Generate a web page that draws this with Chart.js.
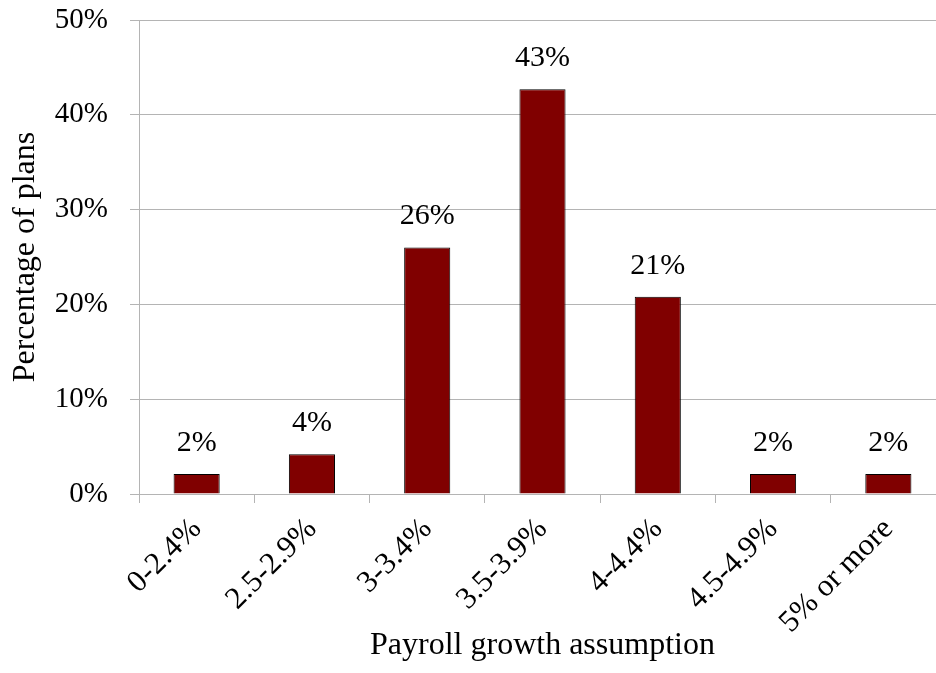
<!DOCTYPE html>
<html>
<head>
<meta charset="utf-8">
<script src="https://cdn.jsdelivr.net/npm/chart.js@4/dist/chart.umd.min.js"></script>
<style>
  html, body { margin: 0; padding: 0; background: #fff; overflow: hidden; }
  #wrap { width: 946px; height: 673px; }
</style>
</head>
<body>
<div id="wrap"><canvas id="payrollChart"></canvas></div>
<script>
// Payroll growth assumption distribution
const categories = ['0-2.4%', '2.5-2.9%', '3-3.4%', '3.5-3.9%', '4-4.4%', '4.5-4.9%', '5% or more'];
const planShares = [2.1, 4.2, 26.0, 42.7, 20.8, 2.1, 2.1];
const yTicks = [0, 10, 20, 30, 40, 50];

const serif = '"Liberation Serif", "Times New Roman", serif';
const gridGray = '#b4b4b4';

// simple value labels above each bar
const barLabels = {
    id: 'barLabels',
    afterDatasetsDraw(chart) {
        const c = chart.ctx;
        const meta = chart.getDatasetMeta(0);
        c.save();
        c.font = '30px ' + serif;
        c.fillStyle = '#000';
        c.textAlign = 'center';
        c.textBaseline = 'bottom';
        meta.data.forEach(function (bar, i) {
            c.fillText(Math.round(planShares[i]) + '%', bar.x, bar.y - 16);
        });
        c.restore();
    }
};

const ctx = document.getElementById('payrollChart').getContext('2d');
const payrollChart = new Chart(ctx, {
    type: 'bar',
    data: {
        labels: categories,
        datasets: [{
            data: planShares,
            backgroundColor: '#800000',
            borderColor: '#000',
            borderWidth: 1,
            barPercentage: 0.4,
            categoryPercentage: 1.0
        }]
    },
    options: {
        responsive: true,
        maintainAspectRatio: false,
        animation: false,
        layout: { padding: { top: 20, right: 0, bottom: 0, left: 0 } },
        plugins: {
            legend: { display: false },
            tooltip: { enabled: false }
        },
        scales: {
            y: {
                min: 0,
                max: 50,
                afterBuildTicks: function (scale) {
                    scale.ticks = yTicks.map(function (v) { return { value: v }; });
                },
                afterFit: function (scale) {
                    scale.width = 139;
                    scale.paddingTop = 0;
                    scale.paddingBottom = 0;
                },
                ticks: {
                    color: '#000',
                    font: { family: serif, size: 29 },
                    padding: 22,
                    callback: function (v) { return v + '%'; }
                },
                grid: { color: gridGray, tickLength: 9 },
                border: { color: gridGray },
                title: {
                    display: true,
                    text: 'Percentage of plans',
                    color: '#000',
                    font: { family: serif, size: 32 },
                    padding: { top: 6, bottom: 0 }
                }
            },
            x: {
                afterFit: function (scale) {
                    scale.height = 179;
                    scale.paddingLeft = 0;
                    scale.paddingRight = 0;
                },
                ticks: {
                    color: '#000',
                    font: { family: serif, size: 31 },
                    minRotation: 45,
                    maxRotation: 45,
                    padding: 8
                },
                grid: { drawOnChartArea: false, color: gridGray, tickLength: 9, offset: true },
                border: { color: gridGray },
                title: {
                    display: true,
                    text: 'Payroll growth assumption',
                    color: '#000',
                    font: { family: serif, size: 32 },
                    padding: { top: 0, bottom: 8 }
                }
            }
        }
    },
    plugins: [barLabels]
});
</script>
</body>
</html>
